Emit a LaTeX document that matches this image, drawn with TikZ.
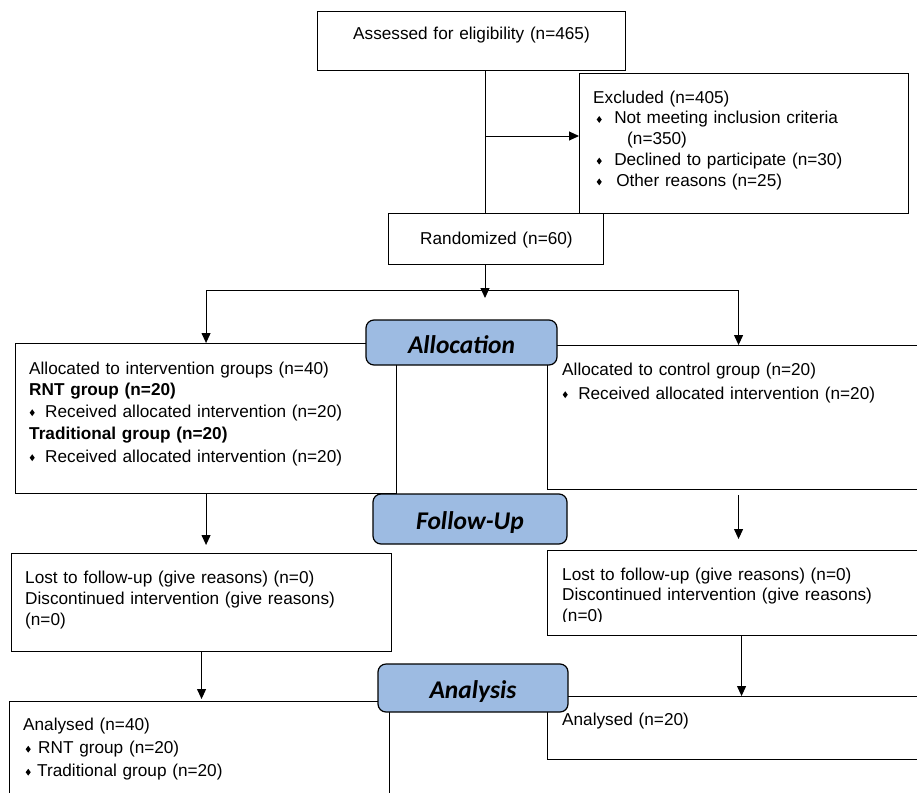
\documentclass[tikz,border=0pt]{standalone}
\usepackage{fontspec}
\setmainfont{Liberation Sans}
\newfontfamily\stagefont{Carlito}
\usepackage{graphicx}
\usetikzlibrary{arrows.meta}
\usetikzlibrary{calc}

\definecolor{stageblue}{RGB}{157,187,226}
% 小菱形符号
\newcommand{\dia}{\raisebox{0.9pt}{\scalebox{0.85}[1.15]{\rotatebox{45}{\rule{4.2pt}{4.2pt}}}}}

\begin{document}
\begin{tikzpicture}[x=1pt, y=-1pt,
    box/.style={draw, line width=1.1pt, inner sep=0pt, anchor=north west},
    txt/.style={inner sep=0pt, anchor=base west, align=left, text width=#1,
        font=\fontsize{17.2pt}{20.8pt}\selectfont},
    txt/.default=360pt,
    stage/.style={draw, line width=1.2pt, rounded corners=8pt, fill=stageblue, inner sep=0pt,
        text height=21pt, text depth=0pt,
        font=\stagefont\bfseries\itshape\fontsize{25.5pt}{28pt}\selectfont},
    arr/.style={-{Triangle[length=10pt,width=9pt]}, line width=1pt}]
    \useasboundingbox (0,0) rectangle (917,792);
    \clip (0,0) rectangle (917,792);

    % 方框
    \node[box, minimum width=308pt, minimum height=59pt] (assess) at (317,11) {};
    \node[txt=300pt] (assess-t) at (353,40) {Assessed for eligibility (n=465)};

    \node[box, minimum width=329pt, minimum height=140pt] (excl) at (579,73) {};
    \node[txt] (excl-t) at (593,103) {Excluded (n=405)\\
        \hspace*{3.5pt}\dia\hspace{12.5pt}Not meeting inclusion criteria\\
        \hspace*{34pt}(n=350)\\
        \hspace*{3.5pt}\dia\hspace{12.5pt}Declined to participate (n=30)\\
        \hspace*{3.5pt}\dia\hspace{14.5pt}Other reasons (n=25)};

    \node[box, minimum width=215pt, minimum height=51pt] (rand) at (388,213) {};
    \node[txt=200pt] (rand-t) at (420,244.5) {Randomized (n=60)};

    \node[box, minimum width=381pt, minimum height=150pt] (allocL) at (15,343) {};
    \node[txt] (allocL-t) at (29,374) {Allocated to intervention groups (n=40)\\[0.2pt]
        \textbf{RNT group (n=20)}\\[1.2pt]
        \hspace*{0.5pt}\dia\hspace{10.5pt}Received allocated intervention (n=20)\\[1.2pt]
        \textbf{Traditional group (n=20)}\\[2.2pt]
        \hspace*{0.5pt}\dia\hspace{10.5pt}Received allocated intervention (n=20)};

    \node[box, minimum width=382pt, minimum height=144pt] (allocR) at (547,345) {};
    \node[txt] (allocR-t) at (562,375) {Allocated to control group (n=20)\\[3.2pt]
        \hspace*{0.5pt}\dia\hspace{10.5pt}Received allocated intervention (n=20)};

    \node[box, minimum width=380pt, minimum height=98pt] (lostL) at (11,553) {};
    \node[txt] (lostL-t) at (25,583.5) {Lost to follow-up (give reasons) (n=0)\\
        Discontinued intervention (give reasons)\\(n=0)};

    \node[box, minimum width=388pt, minimum height=85pt] (lostR) at (547,550) {};
    \begin{scope}
        \clip (547,550) rectangle (935,621);
        \node[txt] (lostR-t) at (562,580) {Lost to follow-up (give reasons) (n=0)\\
            Discontinued intervention (give reasons)\\(n=0)};
    \end{scope}

    \node[box, minimum width=380pt, minimum height=110pt] (anaL) at (9,701) {};
    \node[txt] (anaL-t) at (23,730.5) {Analysed (n=40)\\[2.2pt]
        \hspace*{2.5pt}\dia\hspace{7.5pt}RNT group (n=20)\\[2.2pt]
        \hspace*{2.5pt}\dia\hspace{6.5pt}Traditional group (n=20)};

    \node[box, minimum width=388pt, minimum height=63pt] (anaR) at (547,696) {};
    \node[txt] (anaR-t) at (562,725.5) {Analysed (n=20)};

    % 阶段标签
    \node[stage, minimum width=191pt, minimum height=45pt] (sAlloc) at (461.5,342.5) {Allocation};
    \node[stage, minimum width=194pt, minimum height=50pt] (sFollow) at (470,519) {Follow-Up};
    \node[stage, minimum width=190pt, minimum height=48pt] (sAnal) at (473,688) {Analysis};

    % 连线
    \coordinate (trunk) at (485,0);
    \coordinate (exclArr) at (485,136);
    \coordinate (fork) at (485,290);
    \draw[line width=1pt] (trunk |- assess.south) -- (trunk |- rand.north);
    \draw[arr] (exclArr) -- (exclArr -| excl.west);
    \draw[arr] (trunk |- rand.south) -- ($(fork)+(0,8)$);
    \draw[arr] (fork) -| (allocL.north);
    \draw[arr] (fork) -| (allocR.north);
    \draw[arr] (allocL.south) -- ($(allocL.south |- lostL.north)+(0,-8)$);
    \draw[arr] (lostL.south) -- ($(lostL.south |- anaL.north)+(0,-2)$);
    \draw[arr] ($(allocR.south)+(0,5)$) -- ($(allocR.south |- lostR.north)+(0,-11)$);
    \draw[arr] (lostR.south) -- (lostR.south |- anaR.north);
\end{tikzpicture}
\end{document}
